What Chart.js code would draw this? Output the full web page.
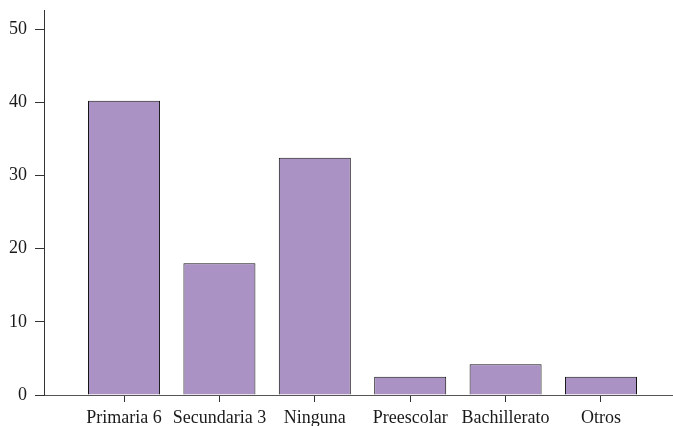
<!DOCTYPE html>
<html>
<head>
<meta charset="utf-8">
<script src="https://cdn.jsdelivr.net/npm/chart.js@4"></script>
<style>
  html, body { margin: 0; padding: 0; background: #fff; }
  #wrap { width: 673px; height: 426px; }
</style>
</head>
<body>
<div id="wrap"><canvas id="chart"></canvas></div>
<script>
// Bar chart: nivel educativo.
const CATEGORIES = ['Primaria 6', 'Secundaria 3', 'Ninguna', 'Preescolar', 'Bachillerato', 'Otros'];
const VALUES = [40.2, 18.0, 32.4, 2.5, 4.2, 2.5];
const Y_TICKS = [0, 10, 20, 30, 40, 50];

const INK = '#1a1a1a';
const FILL = '#ab92c5';
const FONT = { family: '"Liberation Serif", "DejaVu Serif", serif', size: 18 };

Chart.defaults.color = INK;
Chart.defaults.font = FONT;

new Chart(document.getElementById('chart'), {
  type: 'bar',
  data: {
    datasets: [{
      data: VALUES.map((v, i) => ({ x: i, y: v })),
      backgroundColor: FILL,
      borderColor: '#111',
      borderWidth: 1,
      barPercentage: 0.755,
      categoryPercentage: 1,
    }],
  },
  options: {
    responsive: true,
    maintainAspectRatio: false,
    animation: false,
    layout: { padding: { top: 10, right: 0, left: 0, bottom: 0 } },
    plugins: { legend: { display: false }, tooltip: { enabled: false } },
    scales: {
      x: {
        type: 'linear',
        offset: false,
        min: -0.839,
        max: 5.755,
        border: { color: '#555', width: 1 },
        grid: { offset: false, drawOnChartArea: false, drawTicks: true, tickLength: 7, color: '#333' },
        ticks: { callback: (v) => CATEGORIES[v] ?? '', maxRotation: 0, autoSkip: false, padding: 5, color: INK },
        afterBuildTicks: (s) => { s.ticks = CATEGORIES.map((_, i) => ({ value: i })); },
        afterFit: (s) => { s.height = 31; s.paddingLeft = 0; s.paddingRight = 0; },
      },
      y: {
        min: 0,
        max: 52.6,
        border: { color: '#333', width: 1 },
        grid: { drawOnChartArea: false, drawTicks: true, tickLength: 9, color: '#333' },
        ticks: { padding: 8, color: INK },
        afterBuildTicks: (s) => { s.ticks = Y_TICKS.map((v) => ({ value: v })); },
        afterFit: (s) => { s.width = 44; s.paddingTop = 0; s.paddingBottom = 0; },
      },
    },
  },
});
</script>
</body>
</html>
